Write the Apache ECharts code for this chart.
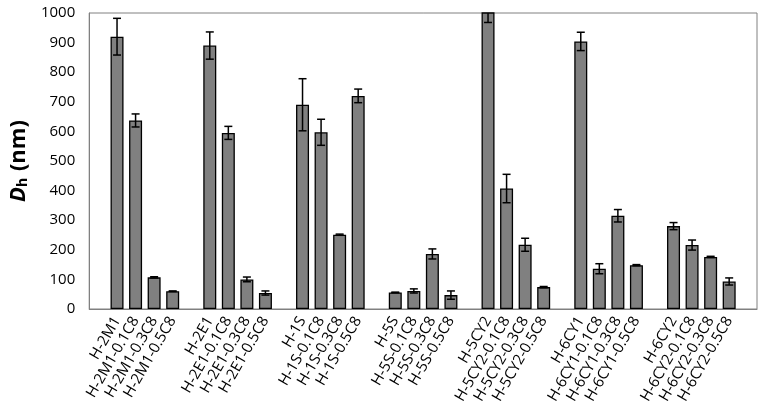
<!DOCTYPE html>
<html>
<head>
<meta charset="utf-8">
<script src="https://cdn.jsdelivr.net/npm/echarts@6/dist/echarts.min.js"></script>
<style>
  html, body { margin: 0; padding: 0; background: #fff; }
  #chart { width: 764px; height: 413px; }
</style>
</head>
<body>
<div id="chart"></div>
<script>
// sample names, in plot order (a blank slot sits before each group and after the last)
var labels = [
  'H-2M1', 'H-2M1-0.1C8', 'H-2M1-0.3C8', 'H-2M1-0.5C8',
  'H-2E1', 'H-2E1-0.1C8', 'H-2E1-0.3C8', 'H-2E1-0.5C8',
  'H-1S', 'H-1S-0.1C8', 'H-1S-0.3C8', 'H-1S-0.5C8',
  'H-5S', 'H-5S-0.1C8', 'H-5S-0.3C8', 'H-5S-0.5C8',
  'H-5CY2', 'H-5CY2-0.1C8', 'H-5CY2-0.3C8', 'H-5CY2-0.5C8',
  'H-6CY1', 'H-6CY1-0.1C8', 'H-6CY1-0.3C8', 'H-6CY1-0.5C8',
  'H-6CY2', 'H-6CY2-0.1C8', 'H-6CY2-0.3C8', 'H-6CY2-0.5C8'
];
// hydrodynamic diameter Dh (nm)
var dh = [
  920, 637, 107, 60,
  890, 595, 100, 54,
  690, 597, 251, 720,
  56, 61, 186, 47,
  1030, 407, 217, 74,
  904, 136, 315, 148,
  280, 216, 176, 93
];
// standard deviation (nm)
var sd = [
  62, 22, 2, 1,
  46, 22, 8, 7,
  88, 44, 2, 23,
  1, 7, 17, 14,
  62, 48, 22, 2,
  31, 17, 21, 2,
  12, 17, 2, 12
];
var yTicks = [0, 100, 200, 300, 400, 500, 600, 700, 800, 900, 1000];

var categories = [];
var barData = [];
var errData = [];
categories.push('');
barData.push('-');
for (var i = 0; i < labels.length; i++) {
  categories.push(labels[i]);
  barData.push(dh[i]);
  errData.push([categories.length - 1, dh[i] - sd[i], dh[i] + sd[i]]);
  if (i % 4 === 3) {
    categories.push('');
    barData.push('-');
  }
}

var myChart = echarts.init(document.getElementById('chart'));
var option = {
  animation: false,
  grid: {
    left: 77,
    right: 7,
    top: 13,
    bottom: 104,
    show: true,
    borderColor: '#808080',
    borderWidth: 1
  },
  xAxis: {
    type: 'category',
    data: categories,
    axisTick: { show: false },
    axisLine: { lineStyle: { color: '#808080', width: 1 } },
    axisLabel: {
      interval: 0,
      rotate: 60,
      margin: 9,
      color: '#000',
      fontSize: 15,
      fontFamily: 'Open Sans'
    }
  },
  yAxis: {
    type: 'value',
    min: yTicks[0],
    max: yTicks[yTicks.length - 1],
    interval: 100,
    axisTick: { show: false },
    axisLine: { show: true, lineStyle: { color: '#808080', width: 1 } },
    splitLine: { show: false },
    axisLabel: {
      color: '#000',
      fontSize: 15,
      margin: 14,
      fontFamily: 'Open Sans',
      formatter: function (v) { return String(v); }
    },
    name: '{d|D}{h|h}{n| (nm)}',
    nameLocation: 'middle',
    nameGap: 50,
    nameTextStyle: {
      rich: {
        d: { fontSize: 22, fontWeight: 'bold', fontStyle: 'italic', fontFamily: 'Open Sans', color: '#000', lineHeight: 28, verticalAlign: 'bottom' },
        h: { fontSize: 14, fontWeight: 'bold', fontFamily: 'Open Sans', color: '#000', lineHeight: 4, verticalAlign: 'bottom', padding: [0, 1, 0, 0] },
        n: { fontSize: 22, fontWeight: 'bold', fontFamily: 'Open Sans', color: '#000', lineHeight: 28, verticalAlign: 'bottom' }
      }
    }
  },
  series: [
    {
      name: 'Dh',
      type: 'bar',
      data: barData,
      barWidth: 13,
      clip: true,
      itemStyle: {
        color: '#808080',
        borderColor: '#000',
        borderWidth: 1.3
      }
    },
    {
      name: 'sd',
      type: 'custom',
      clip: true,
      data: errData,
      z: 3,
      renderItem: function (params, api) {
        var x = api.value(0);
        var lo = api.coord([x, api.value(1)]);
        var hi = api.coord([x, api.value(2)]);
        var half = 4;
        var style = { stroke: '#000', lineWidth: 1.5 };
        return {
          type: 'group',
          children: [
            { type: 'line', shape: { x1: lo[0], y1: lo[1], x2: hi[0], y2: hi[1] }, style: style },
            { type: 'line', shape: { x1: lo[0] - half, y1: lo[1], x2: lo[0] + half, y2: lo[1] }, style: style },
            { type: 'line', shape: { x1: hi[0] - half, y1: hi[1], x2: hi[0] + half, y2: hi[1] }, style: style }
          ]
        };
      }
    }
  ]
};
myChart.setOption(option);
window.addEventListener('resize', function () {
  myChart.resize();
});
</script>
</body>
</html>
